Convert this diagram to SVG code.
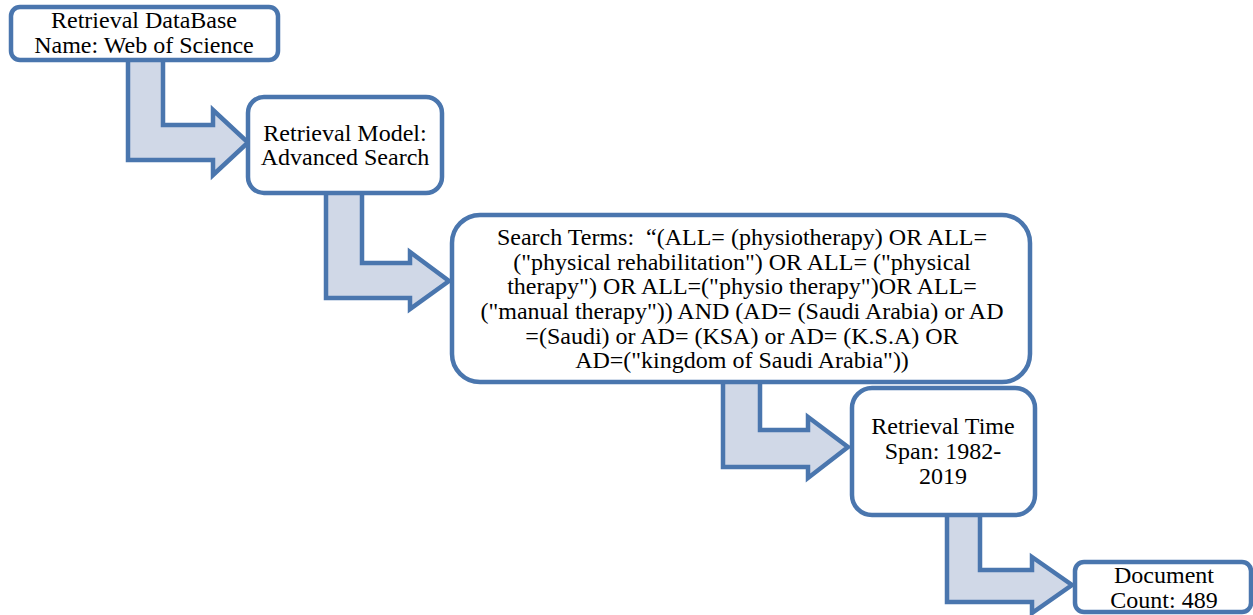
<svg xmlns="http://www.w3.org/2000/svg" width="1253" height="615" viewBox="0 0 1253 615">
<style>
.box{fill:#ffffff;stroke:#4a76ae;stroke-width:4.5}
.arr{fill:#d0d8e7;stroke:#4a76ae;stroke-width:4.5;stroke-linejoin:miter}
text{font-family:"Liberation Serif","Times New Roman",serif;font-size:24px;fill:#000;text-anchor:middle;white-space:pre}
</style>
<rect width="1253" height="615" fill="#ffffff"/>
<g id="connectors">
<polygon class="arr" points="128,58 163,58 163,125 213,125 213,110 248,142.5 213,175 213,160 128,160"/>
<polygon class="arr" points="326,191 362,191 362,263 410,263 410,252 449,281 410,309 410,298 326,298"/>
<polygon class="arr" points="723,380 760,380 760,430 808,430 808,417 848,447 808,478 808,467 723,467"/>
<polygon class="arr" points="947,513 980,513 980,570 1032,570 1032,557 1072,585 1032,613 1032,602 947,602"/>
</g>
<g id="node1">
<rect class="box" x="11" y="7" width="267" height="53" rx="9"/>
<text x="144" y="28">Retrieval DataBase</text>
<text x="144" y="53">Name: Web of Science</text>
</g>
<g id="node2">
<rect class="box" x="248" y="97" width="194" height="96" rx="16"/>
<text x="345" y="141">Retrieval Model:</text>
<text x="345" y="165">Advanced Search</text>
</g>
<g id="node3">
<rect class="box" x="452" y="215" width="578" height="167" rx="28"/>
<text x="742" y="245" xml:space="preserve">Search Terms:  “(ALL= (physiotherapy) OR ALL=</text>
<text x="742" y="270">("physical rehabilitation") OR ALL= ("physical</text>
<text x="742" y="294">therapy") OR ALL=("physio therapy")OR ALL=</text>
<text x="742" y="319">("manual therapy")) AND (AD= (Saudi Arabia) or AD</text>
<text x="742" y="344">=(Saudi) or AD= (KSA) or AD= (K.S.A) OR</text>
<text x="742" y="368">AD=("kingdom of Saudi Arabia"))</text>
</g>
<g id="node4">
<rect class="box" x="852" y="388" width="183" height="127" rx="20"/>
<text x="943" y="434">Retrieval Time</text>
<text x="943" y="459">Span: 1982-</text>
<text x="943" y="484">2019</text>
</g>
<g id="node5">
<rect class="box" x="1075" y="562" width="176" height="50" rx="9"/>
<text x="1164" y="583">Document</text>
<text x="1164" y="608">Count: 489</text>
</g>
</svg>
